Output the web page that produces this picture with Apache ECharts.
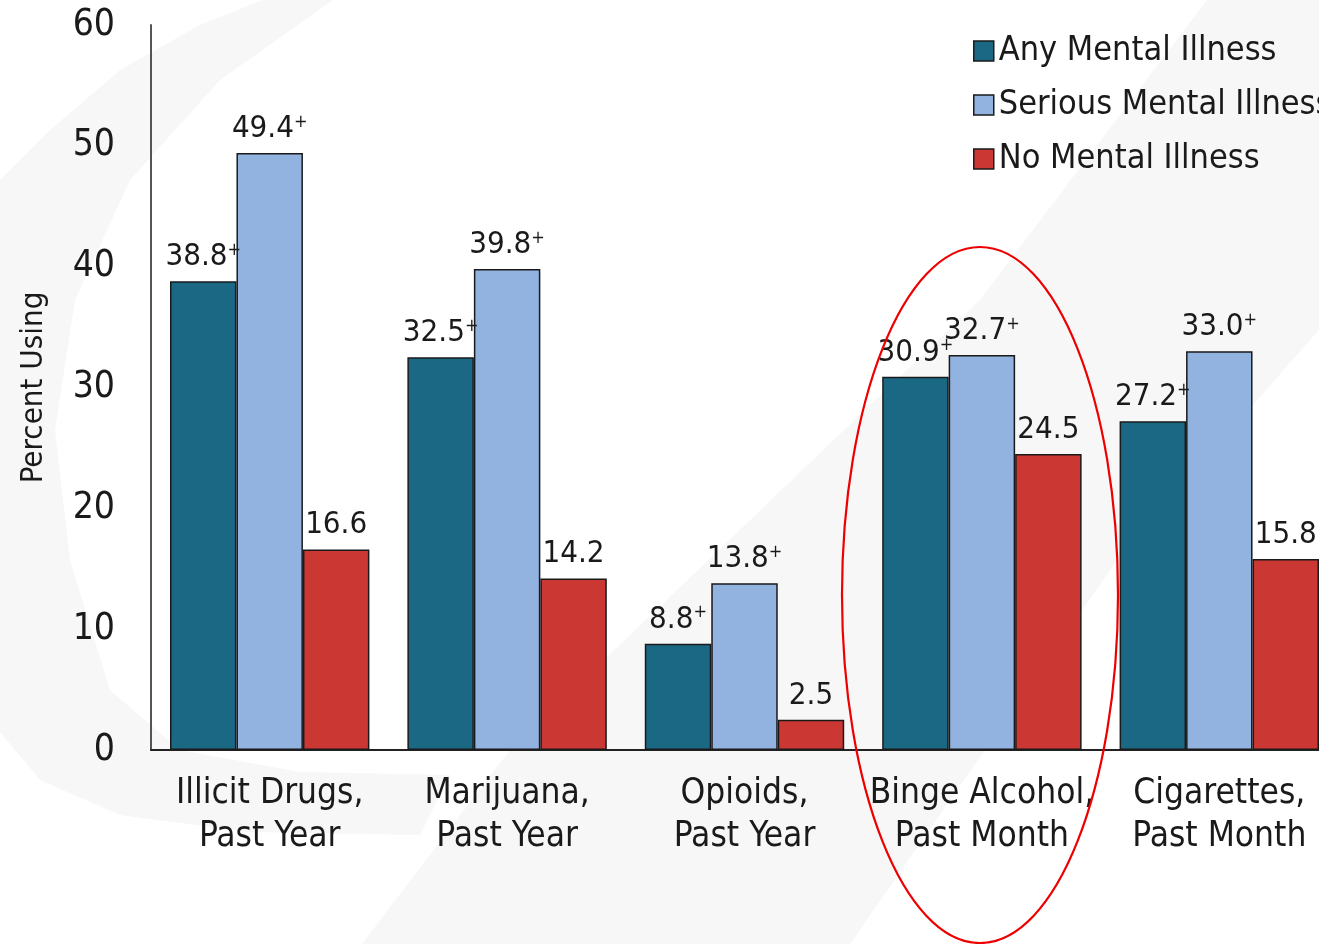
<!DOCTYPE html>
<html><head><meta charset="utf-8">
<script src="https://cdn.jsdelivr.net/npm/echarts@6/dist/echarts.min.js"></script>
<style>html,body{margin:0;padding:0;background:#fff;overflow:hidden;width:1319px;height:944px}#c{width:1345px;height:944px}</style>
</head><body><div id="c"></div>
<script>
var categories = ['Illicit Drugs,\nPast Year', 'Marijuana,\nPast Year', 'Opioids,\nPast Year', 'Binge Alcohol,\nPast Month', 'Cigarettes,\nPast Month'];
var seriesNames = ['Any Mental Illness', 'Serious Mental Illness', 'No Mental Illness'];
var anyMI = [38.8, 32.5, 8.8, 30.9, 27.2];
var seriousMI = [49.4, 39.8, 13.8, 32.7, 33.0];
var noMI = [16.6, 14.2, 2.5, 24.5, 15.8];
var anyPlus = [true, true, true, true, true];
var seriousPlus = [true, true, true, true, true];
var noPlus = [false, false, false, false, false];
var yTicks = [0, 10, 20, 30, 40, 50, 60];

var FONT = '"Liberation Sans Narrow", "DejaVu Sans Condensed", sans-serif';
var colors = ['#1b6884', '#92b2e0', '#cb3733'];

function mkSeries(name, vals, plus, color) {
  return {
    name: name, type: 'bar', barGap: '0%', barCategoryGap: '16%',
    data: vals,
    itemStyle: { color: color, borderColor: '#1a1a1a', borderWidth: 1.5 },
    label: {
      show: true, position: 'top', distance: 8,
      formatter: function (p) {
        var s = '{v|' + Number(p.value).toFixed(1) + '}';
        if (plus[p.dataIndex]) s += '{p|+}';
        return s;
      },
      rich: {
        v: { fontFamily: FONT, fontSize: 31, color: '#1a1a1a', lineHeight: 32 },
        p: { fontFamily: FONT, fontSize: 18, color: '#1a1a1a', lineHeight: 18, verticalAlign: 'top' }
      }
    }
  };
}

var chart = echarts.init(document.getElementById('c'), null, { renderer: 'canvas' });
chart.setOption({
  backgroundColor: '#ffffff',
  animation: false,
  graphic: [
    { type: 'polygon', z: -10, silent: true,
      shape: { points: [[275, -5], [200, 25], [120, 70], [50, 130], [-10, 190], [-10, 720], [40, 780], [120, 815], [250, 832], [420, 835],
                        [450, 775], [300, 772], [180, 750], [110, 690], [70, 560], [55, 430], [75, 300], [130, 180], [220, 80], [340, -5]] },
      style: { fill: '#f7f7f7' } },
    { type: 'polygon', z: -10, silent: true,
      shape: { points: [[1207, 0], [1345, 0], [1345, 300], [1117, 560], [850, 944], [362, 944], [510, 750], [980, 300]] },
      style: { fill: '#f7f7f7' } },
    { type: 'ellipse', z: 100, silent: true, shape: { cx: 980, cy: 595, rx: 138, ry: 348 }, style: { fill: 'none', stroke: '#ee0000', lineWidth: 2.2 } }
  ],
  legend: {
    orient: 'vertical', left: 968, top: 29, itemGap: 20, itemWidth: 20, itemHeight: 20,
    icon: 'rect',
    data: seriesNames,
    itemStyle: { borderColor: '#1a1a1a', borderWidth: 1.5 },
    textStyle: { fontFamily: FONT, fontSize: 34, color: '#1a1a1a' }
  },
  grid: { left: 151, top: 25, width: 1187, bottom: 194, containLabel: false },
  xAxis: {
    type: 'category', data: categories,
    axisLine: { lineStyle: { color: '#222', width: 2 } },
    axisTick: { show: false },
    axisLabel: { fontFamily: FONT, fontSize: 35, color: '#1a1a1a', lineHeight: 43, margin: 22, interval: 0 }
  },
  yAxis: {
    type: 'value', min: 0, max: 60, interval: 10,
    name: 'Percent Using', nameLocation: 'middle', nameGap: 102, nameRotate: 90,
    nameTextStyle: { fontFamily: FONT, fontSize: 31, color: '#1a1a1a' },
    axisLine: { show: true, lineStyle: { color: '#555', width: 2 } },
    axisTick: { show: false },
    splitLine: { show: false },
    axisLabel: { fontFamily: FONT, fontSize: 37, color: '#1a1a1a', margin: 36,
      formatter: function (v) { return yTicks.indexOf(v) >= 0 ? String(v) : ''; } }
  },
  series: [
    mkSeries(seriesNames[0], anyMI, anyPlus, colors[0]),
    mkSeries(seriesNames[1], seriousMI, seriousPlus, colors[1]),
    mkSeries(seriesNames[2], noMI, noPlus, colors[2])
  ]
});
</script></body></html>
